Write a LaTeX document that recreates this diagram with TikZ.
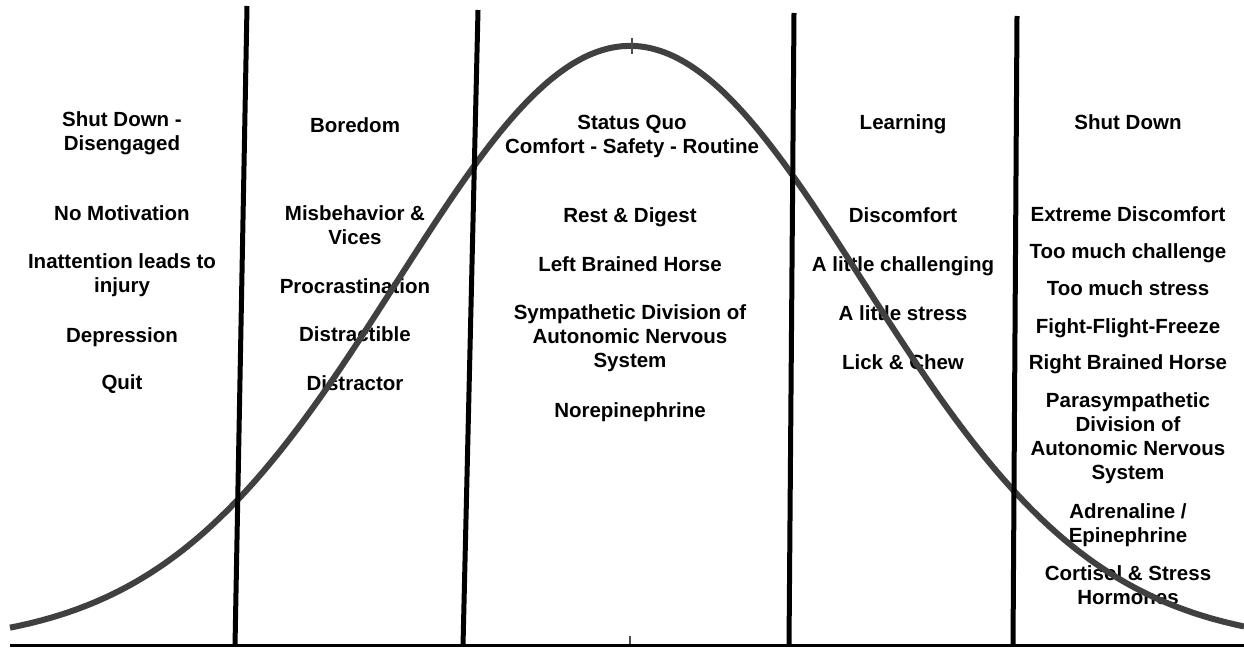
\documentclass[tikz,border=0pt]{standalone}
\usepackage{fontspec}
\setmainfont{Liberation Sans}
\begin{document}
\begin{tikzpicture}[x=1pt,y=-1pt,
  lbl/.style={align=center,inner sep=0pt,font=\bfseries\fontsize{20.5}{24}\selectfont,text=black},
  divider/.style={line width=5pt,black},
  bell/.style={line width=6pt,draw=black!75,line join=round},
  axis/.style={line width=2.5pt,black},
  tickmark/.style={line width=1.2pt,black!70}]
\useasboundingbox[fill=white] (0,0) rectangle (1244,648);
% column 1
\node[lbl] (sd1) at (122,133.5) {Shut Down -\\Disengaged};
\node[lbl] (nomot) at (122,213.5) {No Motivation};
\node[lbl] (inatt) at (122,275.5) {Inattention leads to\\injury};
\node[lbl] (depr) at (122,337) {Depression};
\node[lbl] (quit) at (122,384) {Quit};
% column 2
\node[lbl] (bored) at (355,125) {Boredom};
\node[lbl] (misb) at (355,225) {Misbehavior \&\\Vices};
\node[lbl] (procr) at (355,286) {Procrastination};
\node[lbl] (distr) at (355,334) {Distractible};
\node[lbl] (distor) at (355,383) {Distractor};
% column 3
\node[lbl] (status) at (632,136.5) {Status Quo\\Comfort - Safety - Routine};
\node[lbl] (rest) at (630,217) {Rest \& Digest};
\node[lbl] (left) at (630,264) {Left Brained Horse};
\node[lbl] (symp) at (630,338.5) {Sympathetic Division of\\Autonomic Nervous\\System};
\node[lbl] (norep) at (630,412) {Norepinephrine};
% column 4
\node[lbl] (learn) at (903,124) {Learning};
\node[lbl] (disc) at (903,215) {Discomfort};
\node[lbl] (alc) at (903,266) {A little challenging};
\node[lbl] (als) at (903,313) {A little stress};
\node[lbl] (lick) at (903,362) {Lick \& Chew};
% column 5
\node[lbl] (sd2) at (1128,122) {Shut Down};
\node[lbl] (ext) at (1128,214) {Extreme Discomfort};
\node[lbl] (tmc) at (1128,253) {Too much challenge};
\node[lbl] (tms) at (1128,288) {Too much stress};
\node[lbl] (fff) at (1128,328) {Fight-Flight-Freeze};
\node[lbl] (rbh) at (1128,364) {Right Brained Horse};
\node[lbl] (para) at (1128,438.5) {Parasympathetic\\Division of\\Autonomic Nervous\\System};
\node[lbl] (adr) at (1128,525) {Adrenaline /\\Epinephrine};
\node[lbl] (cort) at (1128,585) {Cortisol \& Stress\\Hormones};
% bell curve
\draw[bell] plot[domain=10:1244,samples=240,smooth] (\x,{645-599*exp(-0.5*((\x-630)/233)^2)});
% ticks
\coordinate (pt1) at (632,38);
\coordinate (pt2) at (632,54);
\draw[tickmark] (pt1) -- (pt2);
\coordinate (bt1) at (630,636);
\coordinate (bt2) at (630,645);
\draw[tickmark] (bt1) -- (bt2);
% dividers
\coordinate (d1t) at (247,6);   \coordinate (d1b) at (235,646);
\coordinate (d2t) at (478,10);  \coordinate (d2b) at (463,646);
\coordinate (d3t) at (794,13);  \coordinate (d3b) at (789,646);
\coordinate (d4t) at (1017,16); \coordinate (d4b) at (1013,646);
\draw[divider] (d1t) -- (d1b);
\draw[divider] (d2t) -- (d2b);
\draw[divider] (d3t) -- (d3b);
\draw[divider] (d4t) -- (d4b);
% baseline
\coordinate (axl) at (10,645.5);
\coordinate (axr) at (1244,645.5);
\draw[axis] (axl) -- (axr);
\end{tikzpicture}
\end{document}
